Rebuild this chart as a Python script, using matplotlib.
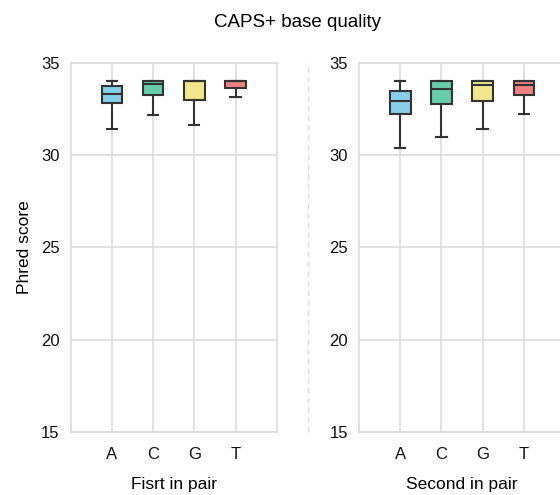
import matplotlib
matplotlib.use("Agg")
import matplotlib.pyplot as plt
from matplotlib.lines import Line2D

plt.rcParams['font.family'] = ['Liberation Sans', 'DejaVu Sans']

bases = ["A", "C", "G", "T"]
box_colors = ["#87CEEB", "#66CDAA", "#F0E68C", "#F08080"]

# Read 1 ("Fisrt in pair") per-base quality summaries
first_whislo = [31.4, 32.15, 31.6, 33.15]
first_q1 = [32.8, 33.25, 33.0, 33.62]
first_med = [33.3, 33.85, 34.0, 34.0]
first_q3 = [33.75, 34.0, 34.0, 34.0]
first_whishi = [34.0, 34.0, 34.0, 34.0]

# Read 2 ("Second in pair") per-base quality summaries
second_whislo = [30.4, 30.95, 31.4, 32.2]
second_q1 = [32.2, 32.75, 32.95, 33.25]
second_med = [32.95, 33.6, 33.8, 33.8]
second_q3 = [33.45, 34.0, 34.0, 34.0]
second_whishi = [34.0, 34.0, 34.0, 34.0]

y_ticks = [15, 20, 25, 30, 35]

W, H = 560, 495
fig = plt.figure(figsize=(W / 100, H / 100), dpi=100)

grid_col = "#dcdcdc"
edge_col = "#333333"


def panel(ax, whislo, q1, med, q3, whishi, xlabel):
    stats = []
    for i, b in enumerate(bases):
        stats.append(dict(label=b, whislo=whislo[i], q1=q1[i], med=med[i],
                          q3=q3[i], whishi=whishi[i], fliers=[]))
    art = ax.bxp(stats, positions=[1, 2, 3, 4], widths=0.5, patch_artist=True,
                 showfliers=False,
                 boxprops=dict(edgecolor=edge_col, linewidth=1.5),
                 medianprops=dict(color=edge_col, linewidth=1.5),
                 whiskerprops=dict(color=edge_col, linewidth=1.5),
                 capprops=dict(color=edge_col, linewidth=1.5))
    for patch, c in zip(art["boxes"], box_colors):
        patch.set_facecolor(c)
    ax.set_xlim(0, 5)
    ax.set_ylim(15, 35)
    ax.set_yticks(y_ticks)
    ax.set_xticks([1, 2, 3, 4])
    ax.set_xticklabels(bases)
    ax.grid(True, color=grid_col, linewidth=1.2)
    ax.set_axisbelow(True)
    for s in ax.spines.values():
        s.set_color(grid_col)
        s.set_linewidth(1.2)
    ax.tick_params(axis="y", length=0, labelsize=12, colors="#111111", pad=8)
    ax.tick_params(axis="x", length=0, labelsize=12, colors="#111111", pad=10.5)
    ax.set_xlabel(xlabel, fontsize=12.5, labelpad=11)


ax1 = fig.add_axes([70.7 / W, 1 - 432 / H, 206 / W, 369.3 / H])
ax2 = fig.add_axes([359 / W, 1 - 432 / H, 206 / W, 369.3 / H])

panel(ax1, first_whislo, first_q1, first_med, first_q3, first_whishi, "Fisrt in pair")
panel(ax2, second_whislo, second_q1, second_med, second_q3, second_whishi, "Second in pair")
ax1.set_ylabel("Phred score", fontsize=12.5, labelpad=6.5)

# dashed divider between the two panels
fig.add_artist(Line2D([308 / W, 308 / W], [1 - 432 / H, 1 - 62 / H],
                      transform=fig.transFigure, color=grid_col,
                      linestyle=(0, (4, 3)), linewidth=1))

fig.text(297.5 / W, 1 - 26.7 / H, "CAPS+ base quality", ha="center", va="baseline",
         fontsize=13.5)

fig.savefig("out.png", dpi=100, facecolor="white")
